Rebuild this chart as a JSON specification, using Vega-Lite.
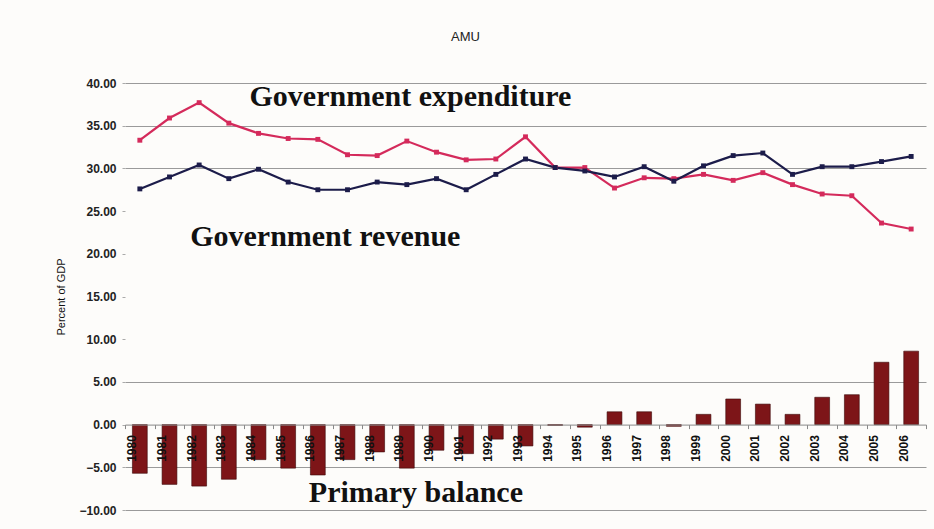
{
  "$schema": "https://vega.github.io/schema/vega-lite/v6.json",
  "width": 801,
  "height": 427,
  "autosize": "none",
  "padding": {"left": 125, "top": 83, "right": 8, "bottom": 19},
  "background": "#fdfcfa",
  "title": {"text": "AMU", "anchor": "middle", "frame": "group", "dx": -60, "offset": 33, "fontSize": 13, "font": "Liberation Sans", "fontWeight": "normal", "color": "#222"},
  "config": {"view": {"stroke": null}},
  "datasets": {
    "fiscal": [
      {"year": "1980", "expenditure": 33.3, "revenue": 27.6, "balance": -5.7},
      {"year": "1981", "expenditure": 35.9, "revenue": 29.0, "balance": -7.0},
      {"year": "1982", "expenditure": 37.7, "revenue": 30.4, "balance": -7.2},
      {"year": "1983", "expenditure": 35.3, "revenue": 28.8, "balance": -6.4},
      {"year": "1984", "expenditure": 34.1, "revenue": 29.9, "balance": -4.1},
      {"year": "1985", "expenditure": 33.5, "revenue": 28.4, "balance": -5.1},
      {"year": "1986", "expenditure": 33.4, "revenue": 27.5, "balance": -5.9},
      {"year": "1987", "expenditure": 31.6, "revenue": 27.5, "balance": -4.1},
      {"year": "1988", "expenditure": 31.5, "revenue": 28.4, "balance": -3.2},
      {"year": "1989", "expenditure": 33.2, "revenue": 28.1, "balance": -5.1},
      {"year": "1990", "expenditure": 31.9, "revenue": 28.8, "balance": -3.0},
      {"year": "1991", "expenditure": 31.0, "revenue": 27.5, "balance": -3.4},
      {"year": "1992", "expenditure": 31.1, "revenue": 29.3, "balance": -1.7},
      {"year": "1993", "expenditure": 33.7, "revenue": 31.1, "balance": -2.5},
      {"year": "1994", "expenditure": 30.1, "revenue": 30.1, "balance": -0.1},
      {"year": "1995", "expenditure": 30.1, "revenue": 29.7, "balance": -0.3},
      {"year": "1996", "expenditure": 27.7, "revenue": 29.0, "balance": 1.5},
      {"year": "1997", "expenditure": 28.9, "revenue": 30.2, "balance": 1.5},
      {"year": "1998", "expenditure": 28.8, "revenue": 28.5, "balance": -0.2},
      {"year": "1999", "expenditure": 29.3, "revenue": 30.3, "balance": 1.2},
      {"year": "2000", "expenditure": 28.6, "revenue": 31.5, "balance": 3.0},
      {"year": "2001", "expenditure": 29.5, "revenue": 31.8, "balance": 2.4},
      {"year": "2002", "expenditure": 28.1, "revenue": 29.3, "balance": 1.2},
      {"year": "2003", "expenditure": 27.0, "revenue": 30.2, "balance": 3.2},
      {"year": "2004", "expenditure": 26.8, "revenue": 30.2, "balance": 3.5},
      {"year": "2005", "expenditure": 23.6, "revenue": 30.8, "balance": 7.3},
      {"year": "2006", "expenditure": 22.9, "revenue": 31.4, "balance": 8.6}
    ],
    "labels": [
      {"label": "Government expenditure", "year": "1984", "value": 38.4},
      {"label": "Government revenue", "year": "1982", "value": 22.0},
      {"label": "Primary balance", "year": "1986", "value": -8.0}
    ]
  },
  "encoding": {
    "x": {"field": "year", "type": "ordinal", "scale": {"paddingInner": 0, "paddingOuter": 0},
      "axis": {"title": null, "orient": "bottom", "offset": -85.4, "zindex": 1, "labelAngle": -90, "labelOffset": -8, "labelFont": "Liberation Sans", "labelFontWeight": "bold", "labelFontSize": 12, "labelColor": "#111", "labelPadding": 6, "domainColor": "#888", "tickColor": "#888", "tickSize": 4, "tickBand": "extent", "grid": false}},
    "y": {"field": "value", "type": "quantitative", "scale": {"domain": [-10, 40], "nice": false, "zero": false},
      "axis": {"title": "Percent of GDP", "titleFont": "Liberation Sans", "titleFontSize": 11, "titleFontWeight": "normal", "titleColor": "#111", "titlePadding": 12,
        "values": [-10, -5, 0, 5, 10, 15, 20, 25, 30, 35, 40], "format": ".2f", "labelFont": "Liberation Sans", "labelFontSize": 12, "labelFontWeight": "bold", "labelColor": "#222", "labelPadding": 6,
        "domain": false, "tickColor": "#aaa", "tickSize": 3,
        "grid": true, "gridColor": {"condition": {"test": "datum.value >= 30 || datum.value == 5 || datum.value < 0", "value": "#9a9a9a"}, "value": "transparent"}, "gridWidth": 1.2}}
  },
  "layer": [
    {
      "data": {"name": "fiscal"},
      "transform": [{"fold": ["balance"], "as": ["series", "value"]}],
      "mark": {"type": "bar", "color": "#7d1518", "stroke": "#3a0606", "strokeWidth": 0.6, "width": {"band": 0.5}}
    },
    {
      "data": {"name": "fiscal"},
      "transform": [{"fold": ["expenditure", "revenue"], "as": ["series", "value"]}],
      "mark": {"type": "line", "strokeWidth": 2.2, "point": {"shape": "square", "size": 24, "filled": true}},
      "encoding": {
        "color": {"field": "series", "type": "nominal", "scale": {"domain": ["expenditure", "revenue"], "range": ["#d42a5b", "#1c1c4a"]}, "legend": null}
      }
    },
    {
      "data": {"name": "labels"},
      "mark": {"type": "text", "align": "left", "baseline": "middle", "dx": -9, "font": "Liberation Serif", "fontWeight": "bold", "fontSize": 30, "color": "#111"},
      "encoding": {
        "text": {"field": "label"}
      }
    }
  ]
}
